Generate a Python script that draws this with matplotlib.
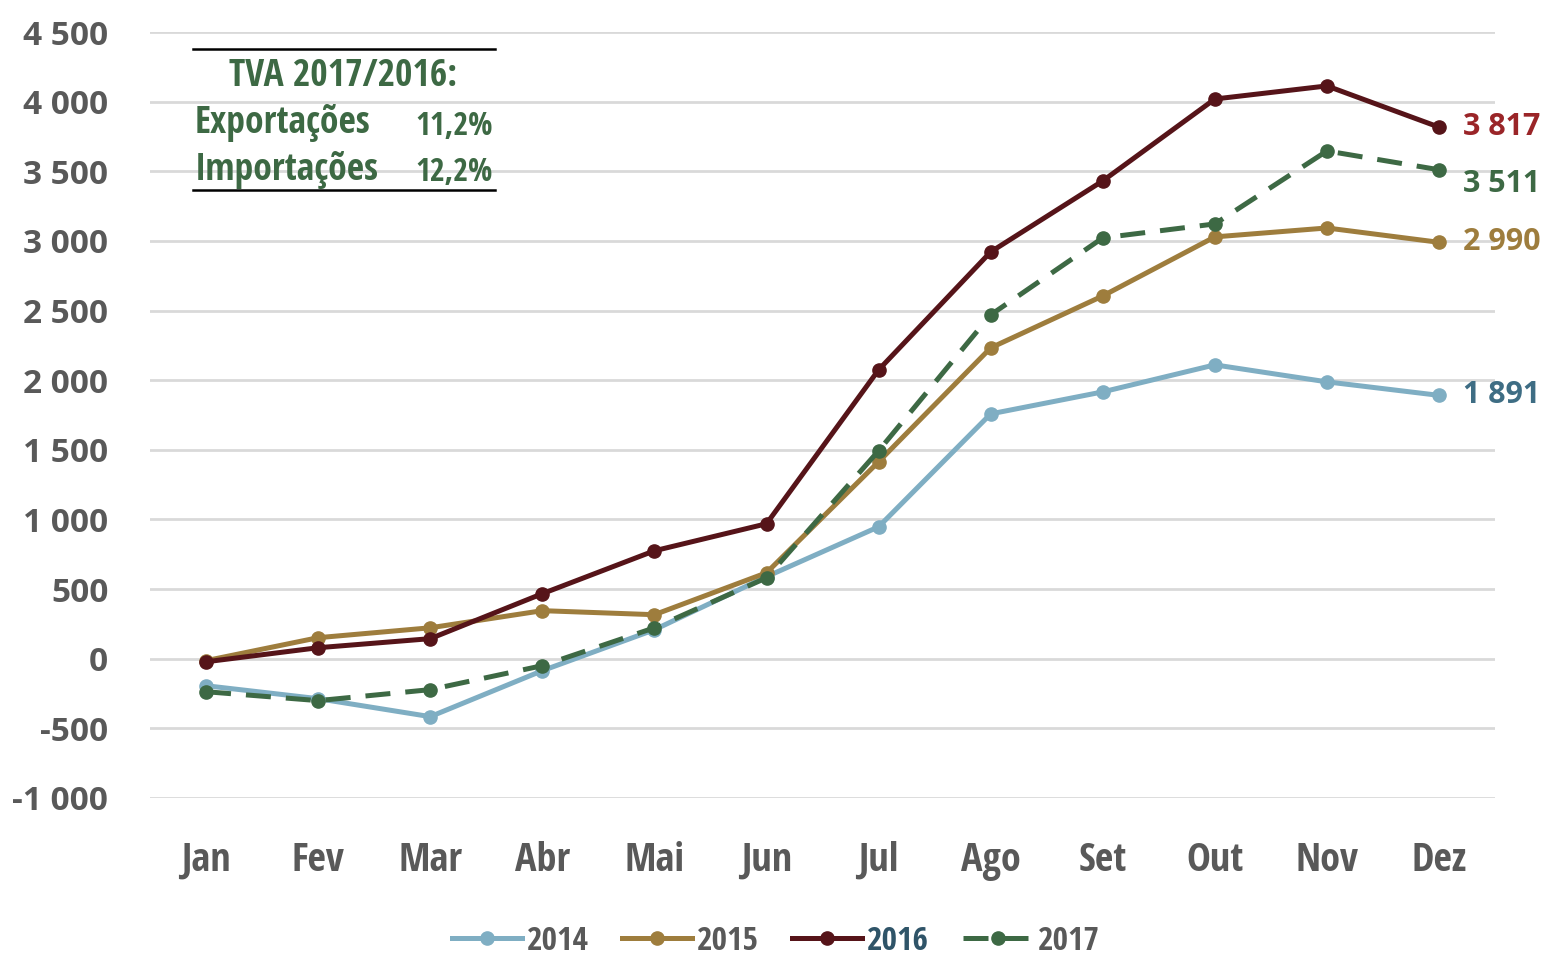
import matplotlib
matplotlib.use("Agg")
import matplotlib.pyplot as plt
from matplotlib import font_manager

# dados (milhões)
meses = ['Jan', 'Fev', 'Mar', 'Abr', 'Mai', 'Jun', 'Jul', 'Ago', 'Set', 'Out', 'Nov', 'Dez']
v2014 = [-194, -287, -416, -86, 208, 589, 947, 1758, 1916, 2110, 1988, 1891]
v2015 = [-14, 151, 222, 345, 316, 617, 1414, 2232, 2605, 3029, 3093, 2990]
v2016 = [-22, 79, 144, 467, 775, 969, 2074, 2921, 3431, 4019, 4113, 3817]
v2017 = [-237, -301, -222, -50, 222, 581, 1493, 2469, 3022, 3122, 3646, 3511]
anos = ['2014', '2015', '2016', '2017']
ultimos = ['1 891', '2 990', '3 817', '3 511']
yticks = list(range(-1000, 4501, 500))

c2014 = '#7FAEC3'
c2015 = '#9E7D3D'
c2016 = '#561419'
c2017 = '#3D6944'
grey = '#595959'

# fonte estreita se existir
nomes = {f.name for f in font_manager.fontManager.ttflist}
cond = None
for n in ['Open Sans Condensed', 'Roboto Condensed', 'Liberation Sans Narrow', 'Noto Sans Display']:
    if n in nomes:
        cond = n
        break
if cond is None:
    cond_kw = dict(family='DejaVu Sans', stretch='condensed', weight='bold')
else:
    cond_kw = dict(family=cond, weight='bold')

fig = plt.figure(figsize=(15.53, 9.56), dpi=100)
ax = fig.add_axes([0.0966, 0.1653, 0.8661, 0.8012])

x = list(range(len(meses)))
ax.plot(x, v2014, color=c2014, lw=3.6, marker='o', ms=9.5, label='2014')
ax.plot(x, v2015, color=c2015, lw=3.6, marker='o', ms=9.5, label='2015')
ax.plot(x, v2016, color=c2016, lw=3.6, marker='o', ms=9.5, label='2016')
ax.plot(x, v2017, color=c2017, lw=3.6, marker='o', ms=9.5, dashes=(5, 3), label='2017')

ax.set_xlim(-0.5, 11.5)
ax.set_ylim(-1000, 4500)
ax.set_yticks(yticks)
ax.set_yticklabels([f'{v:,}'.replace(',', ' ') for v in yticks],
                   family='Open Sans', weight='bold', fontsize=24, color=grey)
ax.set_xticks(x)
ax.set_xticklabels(meses, fontsize=29, color=grey, **cond_kw)
ax.tick_params(length=0)
ax.tick_params(axis='y', pad=30)
ax.tick_params(axis='x', pad=31)
for s in ax.spines.values():
    s.set_visible(False)
ax.grid(axis='y', color='#D9D9D9', lw=2)
ax.set_axisbelow(True)

# valores finais
lab_cor = ['#3E6D84', c2015, '#9A2528', c2017]
lab_dy = [0, 0, 0, -105]
for vals, t, c, dy in zip([v2014, v2015, v2016, v2017], ultimos, lab_cor, lab_dy):
    ax.annotate(t, (11, vals[-1] + dy), xytext=(17, 0), textcoords='offset points',
                va='center', ha='left', fontsize=22, weight='bold', family='Open Sans', color=c)

# caixa TVA
ax.plot([-0.12, 2.58], [4378, 4378], color='black', lw=1.8, clip_on=False)
ax.plot([-0.12, 2.58], [3366, 3366], color='black', lw=1.8, clip_on=False)
ax.text(1.22, 4185, 'TVA 2017/2016:', ha='center', va='center', fontsize=27, color=c2017, **cond_kw)
ax.text(-0.1, 3848, 'Exportações', ha='left', va='center', fontsize=27, color=c2017, **cond_kw)
ax.text(2.56, 3820, '11,2%', ha='right', va='center', fontsize=23, color=c2017, **cond_kw)
ax.text(-0.1, 3511, 'Importações', ha='left', va='center', fontsize=27, color=c2017, **cond_kw)
ax.text(2.56, 3490, '12,2%', ha='right', va='center', fontsize=23, color=c2017, **cond_kw)

leg = ax.legend(loc='center', bbox_to_anchor=(0.465, -0.187), ncol=4, frameon=False,
                handlelength=2.1, columnspacing=1.0, handletextpad=0.15,
                prop=font_manager.FontProperties(size=24, **cond_kw))
for t, c in zip(leg.get_texts(), [grey, grey, '#2F5468', grey]):
    t.set_color(c)

fig.savefig('out.png', dpi=100)
